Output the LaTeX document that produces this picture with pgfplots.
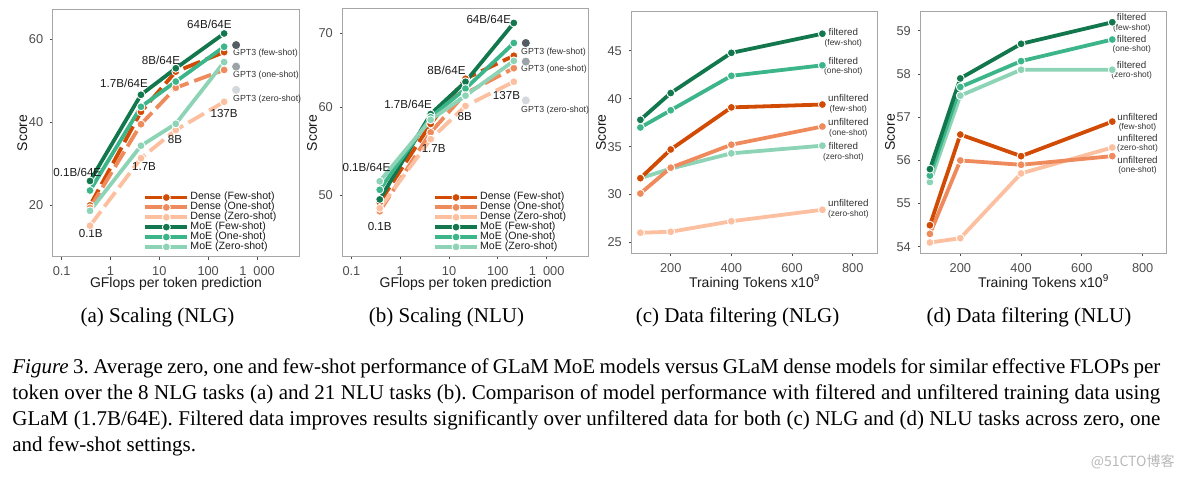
\documentclass[border=0pt]{standalone}
\usepackage{fontspec}
\setmainfont{Liberation Serif}
\newfontfamily\arial{Liberation Sans}
\newfontfamily\cjk{Noto Sans CJK SC}
\usepackage{pgfplots}
\pgfplotsset{compat=1.18}

\definecolor{dg}{HTML}{13774D}
\definecolor{mg}{HTML}{3DB58A}
\definecolor{lgr}{HTML}{8DD3B6}
\definecolor{dor}{HTML}{D14B05}
\definecolor{mor}{HTML}{EE8A5B}
\definecolor{lor}{HTML}{FCC0A0}
\definecolor{gA}{HTML}{535D63}
\definecolor{gB}{HTML}{9BA3A9}
\definecolor{gC}{HTML}{D3D8DC}
\definecolor{boxc}{HTML}{A6A6A6}
\definecolor{tickc}{HTML}{4D4D4D}
\definecolor{labc}{HTML}{4D4D4D}
\definecolor{txt}{HTML}{1A1A1A}
\definecolor{txtb}{HTML}{333333}

\newcommand\tk{\arial\fontsize{6.4}{7}\selectfont}
\newcommand\lb{\arial\fontsize{7}{8}\selectfont}
\newcommand\pl{\arial\fontsize{5.8}{6}\selectfont}
\newcommand\gl{\arial\fontsize{4.4}{5}\selectfont}
\newcommand\legfont{\arial\fontsize{5.3}{5.6}\selectfont}
\newcommand\fl[2]{{\fontsize{4.9}{4.7}\selectfont #1}\\{\fontsize{4.2}{4.7}\selectfont #2}}

\pgfplotsset{
 gg/.style={
  scale only axis, width=123pt,
  axis line style={draw=boxc, line width=0.5pt},
  every tick/.style={draw=tickc, line width=0.5pt},
  tick align=outside, tick pos=left,
  major tick length=1.4pt, minor tick length=0pt,
  tick label style={font=\tk, text=labc},
  /pgf/number format/assume math mode=true,
  every axis y label/.style={at={(rel axis cs:0,0.5)}, anchor=center, xshift=-15.3pt, rotate=90, font=\lb, text=txt},
  every axis x label/.style={at={(rel axis cs:0.5,0)}, anchor=base, yshift=-15.3pt, font=\lb, text=txt},
  clip=false,
 },
 ln/.style={line width=1.9pt, color=#1, mark=*, mark size=2.0pt, mark options={solid, fill=#1, draw=white, line width=0.45pt}},
 dn/.style={ln={#1}, dash pattern=on 9pt off 3pt},
 gp/.style={only marks, mark=*, mark size=2.3pt, mark options={fill=#1, draw=white, line width=0.4pt}, forget plot},
 leg/.style={
  legend style={at={(0.366,0.267)}, anchor=north west, draw=none, fill=none, font=\legfont, inner sep=0pt, row sep=-1.6pt, nodes={inner sep=0.6pt, text=txt}, cells={anchor=west}},
  legend image code/.code={\draw[mark repeat=2, mark phase=2, ##1] plot coordinates {(0pt,0pt) (10.5pt,0pt) (21pt,0pt)};},
 },
}

\begin{document}
\frenchspacing
\begin{tikzpicture}
\path[use as bounding box] (0,0) rectangle (592pt,-239.5pt);

% ---------------- (a) Scaling NLG
\begin{axis}[gg, leg, at={(26.5pt,-4.5pt)}, anchor=north west, height=123.85pt,
 xmode=log, xmin=0.0663, xmax=7244, ymin=7.52, ymax=67.31,
 xtick={0.1,1,10,100,1000}, xticklabels={0.1,1,10,100,1\hspace{0.55em}000},
 ytick={20,40,60}, yticklabels={20,40,60},
 xlabel={GFlops per token prediction}, ylabel={Score}]
\addplot[dn=dor] coordinates {(0.38,19.9)(4.2,42.5)(21.7,52.2)(212,56.9)};
\addlegendentry{Dense (Few-shot)}
\addplot[dn=mor] coordinates {(0.38,19.3)(4.2,39.5)(21.7,48.3)(212,52.6)};
\addlegendentry{Dense (One-shot)}
\addplot[dn=lor] coordinates {(0.38,15.0)(4.2,31.3)(21.7,38.1)(212,44.9)};
\addlegendentry{Dense (Zero-shot)}
\addplot[ln=dg] coordinates {(0.38,25.8)(4.2,46.6)(21.7,53.0)(212,61.4)};
\addlegendentry{MoE (Few-shot)}
\addplot[ln=mg] coordinates {(0.38,23.5)(4.2,43.7)(21.7,49.8)(212,58.2)};
\addlegendentry{MoE (One-shot)}
\addplot[ln=lgr] coordinates {(0.38,18.6)(4.2,34.3)(21.7,39.6)(212,54.5)};
\addlegendentry{MoE (Zero-shot)}
\addplot[gp=gA] coordinates {(373,58.6)};
\addplot[gp=gB] coordinates {(373,53.4)};
\addplot[gp=gC] coordinates {(373,47.8)};
\node[font=\pl, text=txt] at (axis cs:106,63.6) {64B/64E};
\node[font=\pl, text=txt] at (axis cs:10.8,54.8) {8B/64E};
\node[font=\pl, text=txt] at (axis cs:1.89,49.4) {1.7B/64E};
\node[font=\pl, text=txt] at (axis cs:0.209,27.9) {0.1B/64E};
\node[font=\pl, text=txt] at (axis cs:0.393,13.2) {0.1B};
\node[font=\pl, text=txt] at (axis cs:4.85,29.2) {1.7B};
\node[font=\pl, text=txt] at (axis cs:20.9,35.9) {8B};
\node[font=\pl, text=txt] at (axis cs:212,42.1) {137B};
\node[font=\gl, text=txtb, anchor=west, inner sep=0pt] at (axis cs:319,56.6) {GPT3 (few-shot)};
\node[font=\gl, text=txtb, anchor=west, inner sep=0pt] at (axis cs:319,51.4) {GPT3 (one-shot)};
\node[font=\gl, text=txtb, anchor=west, inner sep=0pt] at (axis cs:319,45.6) {GPT3 (zero-shot)};
\end{axis}

% ---------------- (b) Scaling NLU
\begin{axis}[gg, leg, at={(171.35pt,-4.5pt)}, anchor=north west, height=123.85pt,
 xmode=log, ymode=log, xmin=0.0663, xmax=7244, ymin=44.05, ymax=73.6,
 xtick={0.1,1,10,100,1000}, xticklabels={0.1,1,10,100,1\hspace{0.55em}000},
 ytick={50,60,70}, yticklabels={50,60,70}, minor ytick={}, minor xtick={},
 xlabel={GFlops per token prediction}, ylabel={Score}]
\addplot[dn=dor] coordinates {(0.38,49.3)(4.2,58.0)(21.7,63.7)(212,66.8)};
\addlegendentry{Dense (Few-shot)}
\addplot[dn=mor] coordinates {(0.38,48.4)(4.2,57.0)(21.7,61.8)(212,65.1)};
\addlegendentry{Dense (One-shot)}
\addplot[dn=lor] coordinates {(0.38,48.7)(4.2,56.2)(21.7,60.2)(212,63.3)};
\addlegendentry{Dense (Zero-shot)}
\addplot[ln=dg] coordinates {(0.38,49.6)(4.2,59.2)(21.7,63.3)(212,71.5)};
\addlegendentry{MoE (Few-shot)}
\addplot[ln=mg] coordinates {(0.38,50.6)(4.2,58.8)(21.7,62.4)(212,68.6)};
\addlegendentry{MoE (One-shot)}
\addplot[ln=lgr] coordinates {(0.38,51.5)(4.2,58.5)(21.7,61.5)(212,66.1)};
\addlegendentry{MoE (Zero-shot)}
\addplot[gp=gA] coordinates {(373,68.6)};
\addplot[gp=gB] coordinates {(373,66.0)};
\addplot[gp=gC] coordinates {(373,60.9)};
\node[font=\pl, text=txt] at (axis cs:65,72.06) {64B/64E};
\node[font=\pl, text=txt] at (axis cs:8.85,64.8) {8B/64E};
\node[font=\pl, text=txt] at (axis cs:1.45,60.45) {1.7B/64E};
\node[font=\pl, text=txt] at (axis cs:0.203,53.0) {0.1B/64E};
\node[font=\pl, text=txt] at (axis cs:0.38,46.9) {0.1B};
\node[font=\pl, text=txt] at (axis cs:4.85,55.1) {1.7B};
\node[font=\pl, text=txt] at (axis cs:20.9,58.9) {8B};
\node[font=\pl, text=txt] at (axis cs:150,61.5) {137B};
\node[font=\gl, text=txtb, anchor=west, inner sep=0pt] at (axis cs:294,67.3) {GPT3 (few-shot)};
\node[font=\gl, text=txtb, anchor=west, inner sep=0pt] at (axis cs:294,65.0) {GPT3 (one-shot)};
\node[font=\gl, text=txtb, anchor=west, inner sep=0pt] at (axis cs:294,59.7) {GPT3 (zero-shot)};
\end{axis}

% ---------------- (c) Data filtering NLG
\begin{axis}[gg, at={(315.85pt,-5.85pt)}, anchor=north west, height=120.8pt,
 xmin=71.4, xmax=882.4, ymin=23.85, ymax=49.1,
 xtick={200,400,600,800}, ytick={25,30,35,40,45},
 every axis x label/.append style={yshift=-1.7pt},
 xlabel={Training Tokens x10\textsuperscript{9}}, ylabel={Score}]
\addplot[ln=lor] coordinates {(100,26.0)(200,26.1)(400,27.2)(700,28.4)};
\addplot[ln=lgr] coordinates {(100,31.7)(200,32.7)(400,34.3)(700,35.1)};
\addplot[ln=mor] coordinates {(100,30.1)(200,32.8)(400,35.2)(700,37.1)};
\addplot[ln=dor] coordinates {(100,31.7)(200,34.7)(400,39.1)(700,39.4)};
\addplot[ln=mg] coordinates {(100,37.0)(200,38.8)(400,42.4)(700,43.5)};
\addplot[ln=dg] coordinates {(100,37.8)(200,40.6)(400,44.8)(700,46.8)};
\tikzset{fln/.style={align=center, inner sep=0pt, text=txtb, font=\arial\fontsize{4.5}{4.7}\selectfont}}
\node[fln] at (axis cs:769,46.36) {\fl{filtered}{(few-shot)}};
\node[fln] at (axis cs:769,43.4) {\fl{filtered}{(one-shot)}};
\node[fln] at (axis cs:785.6,39.46) {\fl{unfiltered}{(few-shot)}};
\node[fln] at (axis cs:785.6,36.98) {\fl{unfiltered}{(one-shot)}};
\node[fln] at (axis cs:769,34.47) {\fl{filtered}{(zero-shot)}};
\node[fln] at (axis cs:785.6,28.48) {\fl{unfiltered}{(zero-shot)}};
\end{axis}

% ---------------- (d) Data filtering NLU
\begin{axis}[gg, at={(460.35pt,-5.5pt)}, anchor=north west, height=121.15pt,
 xmin=69.7, xmax=879, ymin=53.85, ymax=59.46,
 xtick={200,400,600,800}, ytick={54,55,56,57,58,59},
 every axis x label/.append style={yshift=-1.7pt},
 xlabel={Training Tokens x10\textsuperscript{9}}, ylabel={Score}]
\addplot[ln=lor] coordinates {(100,54.1)(200,54.2)(400,55.7)(700,56.3)};
\addplot[ln=mor] coordinates {(100,54.3)(200,56.0)(400,55.9)(700,56.1)};
\addplot[ln=dor] coordinates {(100,54.5)(200,56.6)(400,56.1)(700,56.9)};
\addplot[ln=lgr] coordinates {(100,55.5)(200,57.5)(400,58.1)(700,58.1)};
\addplot[ln=mg] coordinates {(100,55.65)(200,57.7)(400,58.3)(700,58.8)};
\addplot[ln=dg] coordinates {(100,55.8)(200,57.9)(400,58.7)(700,59.2)};
\tikzset{fln/.style={align=center, inner sep=0pt, text=txtb, font=\arial\fontsize{4.5}{4.7}\selectfont}}
\node[fln] at (axis cs:763.8,59.19) {\fl{filtered}{(few-shot)}};
\node[fln] at (axis cs:763.8,58.69) {\fl{filtered}{(one-shot)}};
\node[fln] at (axis cs:763.8,58.09) {\fl{filtered}{(zero-shot)}};
\node[fln] at (axis cs:783,56.88) {\fl{unfiltered}{(few-shot)}};
\node[fln] at (axis cs:783,56.40) {\fl{unfiltered}{(zero-shot)}};
\node[fln] at (axis cs:783,55.89) {\fl{unfiltered}{(one-shot)}};
\end{axis}

% ---------------- sub-captions and caption
\begin{scope}[every node/.style={font=\fontsize{10.5}{13}\selectfont, inner sep=0pt}]
\node[anchor=base] at (78.75pt,-161pt) {(a) Scaling (NLG)};
\node[anchor=base] at (223.25pt,-161pt) {(b) Scaling (NLU)};
\node[anchor=base] at (368.75pt,-161pt) {(c) Data filtering (NLG)};
\node[anchor=base] at (514.5pt,-161pt) {(d) Data filtering (NLU)};
\node[anchor=north west, align=left] at (6pt,-179pt) {%
\makebox[574pt][s]{\textit{Figure} 3. Average zero, one and few-shot performance of GLaM MoE models versus GLaM dense models for similar effective FLOPs per}\\
\makebox[574pt][s]{token over the 8 NLG tasks (a) and 21 NLU tasks (b). Comparison of model performance with filtered and unfiltered training data using}\\
\makebox[574pt][s]{GLaM (1.7B/64E). Filtered data improves results significantly over unfiltered data for both (c) NLG and (d) NLU tasks across zero, one}\\
and few-shot settings.};
\end{scope}
\node[anchor=east, inner sep=0pt, font=\cjk\fontsize{7}{8}\selectfont, text=black!28] at (587.5pt,-231pt) {@51CTO博客};
\end{tikzpicture}
\end{document}
